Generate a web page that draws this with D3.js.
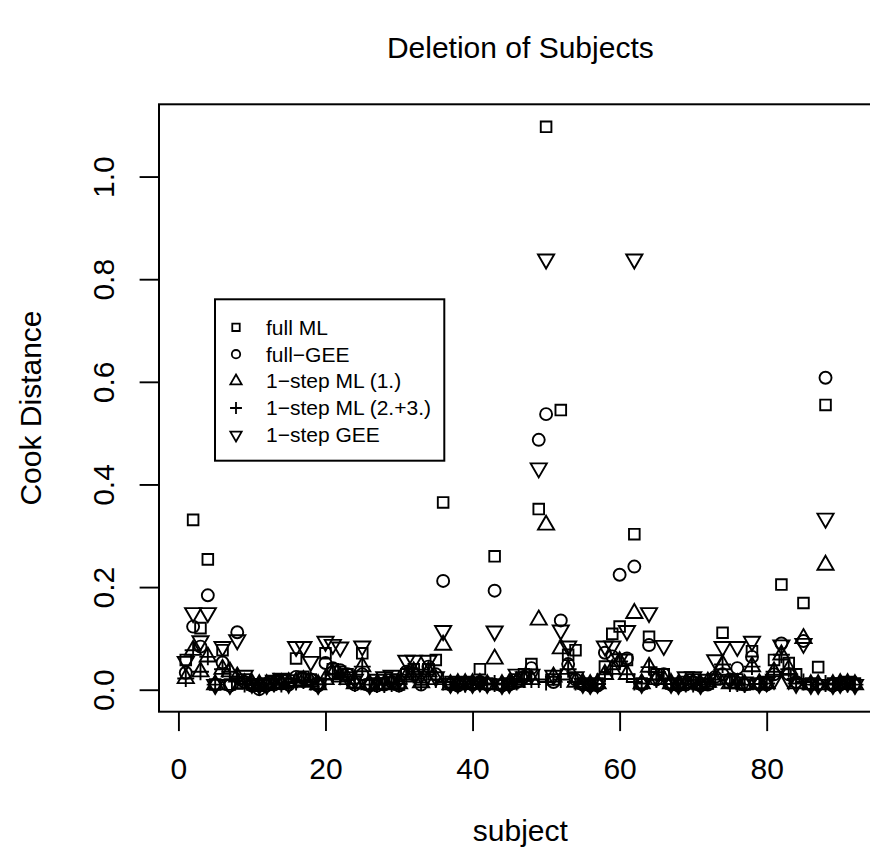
<!DOCTYPE html>
<html>
<head>
<meta charset="utf-8">
<script src="https://cdn.jsdelivr.net/npm/d3@7"></script>
<style>
  body { margin: 0; background: #fff; }
  svg { display: block; font-family: "Liberation Sans", Arial, Helvetica, sans-serif; }
</style>
</head>
<body>
<div id="chart"></div>
<script>
// Cook distances per deleted subject
const subjects = [
    1, 2, 3, 4, 5, 6, 7, 8, 9, 10, 11, 12, 13, 14, 15, 16, 17, 18, 19, 20,
    21, 22, 23, 24, 25, 26, 27, 28, 29, 30, 31, 32, 33, 34, 35, 36, 37, 38, 39, 40,
    41, 42, 43, 44, 45, 46, 47, 48, 49, 50, 51, 52, 53, 54, 55, 56, 57, 58, 59, 60,
    61, 62, 63, 64, 65, 66, 67, 68, 69, 70, 71, 72, 73, 74, 75, 76, 77, 78, 79, 80,
    81, 82, 83, 84, 85, 86, 87, 88, 89, 90, 91, 92
];

const fullML = [
    0.058, 0.331, 0.120, 0.254, 0.010, 0.077, 0.010, 0.012, 0.020, 0.010,
    0.008, 0.012, 0.015, 0.020, 0.018, 0.061, 0.025, 0.020, 0.012, 0.071,
    0.040, 0.035, 0.030, 0.015, 0.071, 0.010, 0.012, 0.012, 0.020, 0.010,
    0.030, 0.040, 0.020, 0.040, 0.058, 0.365, 0.015, 0.012, 0.015, 0.012,
    0.040, 0.012, 0.260, 0.010, 0.012, 0.020, 0.030, 0.050, 0.352, 1.097,
    0.020, 0.545, 0.068, 0.077, 0.012, 0.010, 0.012, 0.045, 0.109, 0.123,
    0.058, 0.303, 0.012, 0.103, 0.030, 0.030, 0.012, 0.010, 0.015, 0.020,
    0.010, 0.012, 0.020, 0.111, 0.015, 0.020, 0.010, 0.075, 0.012, 0.015,
    0.058, 0.205, 0.052, 0.030, 0.169, 0.012, 0.044, 0.555, 0.012, 0.012,
    0.015, 0.012
];

const fullGEE = [
    0.033, 0.123, 0.084, 0.184, 0.010, 0.053, 0.008, 0.112, 0.015, 0.008,
    0.001, 0.008, 0.010, 0.012, 0.010, 0.025, 0.022, 0.020, 0.008, 0.052,
    0.042, 0.038, 0.030, 0.010, 0.030, 0.008, 0.008, 0.010, 0.015, 0.008,
    0.035, 0.030, 0.010, 0.045, 0.030, 0.212, 0.010, 0.008, 0.012, 0.010,
    0.015, 0.010, 0.193, 0.008, 0.010, 0.015, 0.025, 0.042, 0.487, 0.537,
    0.015, 0.135, 0.050, 0.020, 0.010, 0.008, 0.008, 0.072, 0.065, 0.224,
    0.061, 0.240, 0.010, 0.087, 0.020, 0.030, 0.010, 0.008, 0.010, 0.015,
    0.008, 0.010, 0.025, 0.030, 0.020, 0.042, 0.010, 0.064, 0.010, 0.010,
    0.030, 0.090, 0.030, 0.015, 0.095, 0.010, 0.010, 0.608, 0.008, 0.010,
    0.012, 0.010
];

const oneStepML1 = [
    0.022, 0.077, 0.035, 0.064, 0.010, 0.040, 0.035, 0.025, 0.012, 0.012,
    0.010, 0.010, 0.012, 0.012, 0.014, 0.015, 0.018, 0.015, 0.010, 0.020,
    0.030, 0.025, 0.020, 0.012, 0.045, 0.010, 0.010, 0.010, 0.012, 0.012,
    0.025, 0.035, 0.014, 0.035, 0.020, 0.087, 0.010, 0.012, 0.012, 0.012,
    0.012, 0.010, 0.060, 0.010, 0.012, 0.015, 0.020, 0.020, 0.136, 0.321,
    0.025, 0.080, 0.040, 0.015, 0.012, 0.010, 0.012, 0.030, 0.040, 0.055,
    0.030, 0.149, 0.012, 0.044, 0.020, 0.020, 0.012, 0.010, 0.012, 0.012,
    0.010, 0.015, 0.020, 0.049, 0.012, 0.012, 0.010, 0.045, 0.012, 0.012,
    0.035, 0.068, 0.040, 0.012, 0.100, 0.010, 0.010, 0.243, 0.010, 0.012,
    0.012, 0.010
];

const oneStepML23 = [
    0.022, 0.077, 0.035, 0.064, 0.010, 0.040, 0.035, 0.025, 0.011, 0.011,
    0.010, 0.010, 0.011, 0.011, 0.013, 0.015, 0.018, 0.015, 0.010, 0.020,
    0.030, 0.025, 0.020, 0.012, 0.045, 0.010, 0.010, 0.010, 0.012, 0.011,
    0.025, 0.035, 0.014, 0.035, 0.020, 0.015, 0.010, 0.011, 0.011, 0.011,
    0.012, 0.010, 0.012, 0.010, 0.011, 0.015, 0.020, 0.020, 0.020, 0.015,
    0.025, 0.020, 0.040, 0.015, 0.011, 0.010, 0.011, 0.030, 0.040, 0.055,
    0.030, 0.015, 0.012, 0.044, 0.020, 0.020, 0.011, 0.010, 0.011, 0.011,
    0.010, 0.015, 0.020, 0.049, 0.012, 0.012, 0.010, 0.045, 0.011, 0.012,
    0.035, 0.068, 0.040, 0.012, 0.015, 0.010, 0.010, 0.012, 0.010, 0.011,
    0.011, 0.010
];

const oneStepGEE = [
    0.055, 0.150, 0.095, 0.150, 0.010, 0.084, 0.010, 0.097, 0.028, 0.012,
    0.010, 0.010, 0.018, 0.022, 0.012, 0.084, 0.084, 0.055, 0.010, 0.094,
    0.088, 0.083, 0.025, 0.020, 0.085, 0.010, 0.020, 0.025, 0.028, 0.020,
    0.057, 0.057, 0.030, 0.057, 0.025, 0.115, 0.012, 0.012, 0.015, 0.012,
    0.015, 0.012, 0.114, 0.010, 0.012, 0.030, 0.025, 0.030, 0.432, 0.839,
    0.028, 0.116, 0.085, 0.025, 0.012, 0.010, 0.012, 0.085, 0.085, 0.060,
    0.115, 0.839, 0.012, 0.150, 0.025, 0.086, 0.012, 0.010, 0.025, 0.025,
    0.010, 0.020, 0.058, 0.084, 0.020, 0.084, 0.015, 0.094, 0.012, 0.015,
    0.020, 0.087, 0.020, 0.012, 0.090, 0.010, 0.010, 0.334, 0.010, 0.012,
    0.015, 0.010
];

const seriesNames = ['full ML', 'full\u2212GEE', '1\u2212step ML (1.)', '1\u2212step ML (2.+3.)', '1\u2212step GEE'];
const seriesShapes = ['square', 'circle', 'up', 'plus', 'down'];
const xTicks = [0, 20, 40, 60, 80];
const yTicks = [0, 0.2, 0.4, 0.6, 0.8, 1.0];

// R-like pch glyphs, r is the base symbol radius
function glyph(shape, r) {
    const p = d3.path();
    if (shape === 'square') {
        const h = 0.886 * r;
        p.rect(-h, -h, 2 * h, 2 * h);
    } else if (shape === 'circle') {
        p.arc(0, 0, r, 0, 2 * Math.PI);
        p.closePath();
    } else if (shape === 'up' || shape === 'down') {
        const s = shape === 'up' ? 1 : -1;
        p.moveTo(0, -s * 1.555 * r);
        p.lineTo(1.347 * r, s * 0.778 * r);
        p.lineTo(-1.347 * r, s * 0.778 * r);
        p.closePath();
    } else {
        const h = 1.414 * r;
        p.moveTo(-h, 0); p.lineTo(h, 0);
        p.moveTo(0, -h); p.lineTo(0, h);
    }
    return p.toString();
}

const W = 870, H = 865;
const margin = { top: 104.3, left: 159, right: -11.7, bottom: 153.3 };
const width = W - margin.left - margin.right;
const height = H - margin.top - margin.bottom;

const svg = d3.select('#chart').append('svg')
    .attr('width', W)
    .attr('height', H);

const g = svg.append('g')
    .attr('transform', `translate(${margin.left},${margin.top})`);

const seriesValues = [fullML, fullGEE, oneStepML1, oneStepML23, oneStepGEE];
const allValues = seriesValues.flat();

// R's default 4% axis padding
const xExt = d3.extent(subjects);
const xPad = (xExt[1] - xExt[0]) * 0.04;
const yExt = d3.extent(allValues);
const yPad = (yExt[1] - yExt[0]) * 0.04;

const x = d3.scaleLinear().domain([xExt[0] - xPad, xExt[1] + xPad]).range([0, width]);
const y = d3.scaleLinear().domain([yExt[0] - yPad, yExt[1] + yPad]).range([height, 0]);

const fontSize = 30;
const tickLen = 19.4;
const lw = 1.9;

// Points
seriesValues.forEach((vals, k) => {
    const d = glyph(seriesShapes[k], 6.0);
    g.append('g')
        .attr('class', 'series')
        .selectAll('path')
        .data(subjects.map((s, i) => ({ s, v: vals[i] })))
        .join('path')
        .attr('transform', p => `translate(${x(p.s)},${y(p.v)})`)
        .attr('d', d)
        .attr('fill', 'none')
        .attr('stroke', '#000')
        .attr('stroke-width', lw);
});

// Axes
const xAxis = g.append('g')
    .attr('transform', `translate(0,${height})`)
    .call(d3.axisBottom(x).tickValues(xTicks).tickSize(tickLen).tickFormat(d3.format('d')));
xAxis.select('.domain').remove();
xAxis.selectAll('.tick line').attr('stroke', '#000').attr('stroke-width', lw);
xAxis.selectAll('.tick text')
    .attr('y', 67.6)
    .attr('dy', null)
    .attr('fill', '#000')
    .style('font-size', fontSize + 'px');

const yAxis = g.append('g')
    .call(d3.axisLeft(y).tickValues(yTicks).tickSize(tickLen).tickFormat(d3.format('.1f')));
yAxis.select('.domain').remove();
yAxis.selectAll('.tick line').attr('stroke', '#000').attr('stroke-width', lw);
yAxis.selectAll('.tick text')
    .attr('x', 0)
    .attr('y', -45.4)
    .attr('dy', null)
    .attr('transform', 'rotate(-90)')
    .attr('text-anchor', 'middle')
    .attr('fill', '#000')
    .style('font-size', fontSize + 'px');

// Plot box
g.append('rect')
    .attr('width', width)
    .attr('height', height)
    .attr('fill', 'none')
    .attr('stroke', '#000')
    .attr('stroke-width', 2);

// Titles
svg.append('text')
    .attr('x', margin.left + width / 2)
    .attr('y', 58)
    .attr('text-anchor', 'middle')
    .style('font-size', fontSize + 'px')
    .text('Deletion of Subjects');

svg.append('text')
    .attr('x', margin.left + width / 2)
    .attr('y', 841)
    .attr('text-anchor', 'middle')
    .style('font-size', fontSize + 'px')
    .text('subject');

svg.append('text')
    .attr('transform', `translate(41,${margin.top + height / 2}) rotate(-90)`)
    .attr('text-anchor', 'middle')
    .style('font-size', fontSize + 'px')
    .text('Cook Distance');

// Legend
const legend = svg.append('g').attr('transform', 'translate(215,299.3)');
legend.append('rect')
    .attr('width', 229.3)
    .attr('height', 161.4)
    .attr('fill', '#fff')
    .attr('stroke', '#000')
    .attr('stroke-width', 2);

const rows = legend.selectAll('.row')
    .data(seriesNames)
    .join('g')
    .attr('class', 'row')
    .attr('transform', (d, i) => `translate(0,${28 + i * 26.9})`);

rows.append('path')
    .attr('transform', 'translate(21,0)')
    .attr('d', (d, i) => glyph(seriesShapes[i], 4.2))
    .attr('fill', 'none')
    .attr('stroke', '#000')
    .attr('stroke-width', 1.8);

rows.append('text')
    .attr('x', 51)
    .attr('dy', '0.35em')
    .style('font-size', '21px')
    .text(d => d);
</script>
</body>
</html>
